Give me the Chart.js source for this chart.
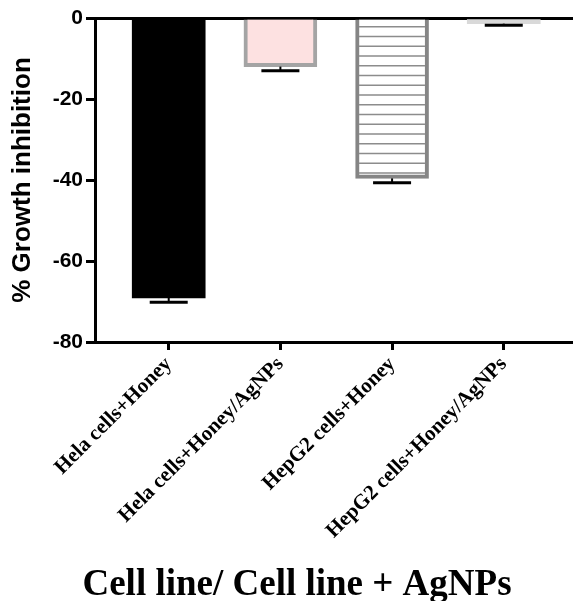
<!DOCTYPE html>
<html>
<head>
<meta charset="utf-8">
<script src="https://cdn.jsdelivr.net/npm/chart.js@4.4.1/dist/chart.umd.min.js"></script>
<style>
    html, body { margin: 0; padding: 0; background: #fff; }
</style>
</head>
<body>
<canvas id="growthChart" width="573" height="601"></canvas>
<script>
const categories = ["Hela cells+Honey", "Hela cells+Honey/AgNPs", "HepG2 cells+Honey", "HepG2 cells+Honey/AgNPs"];
const inhibition = [-69.1, -12.0, -39.6, -1.4];
const errors = [1.1, 1.0, 1.1, 0.4];
const yTicks = [0, -20, -40, -60, -80];
const yAxisTitle = "% Growth inhibition";
const xAxisTitle = "Cell line/ Cell line + AgNPs";

// white fill with thin grey horizontal lines, like the HepG2 bar
const makeStripes = () => {
    const c = document.createElement('canvas');
    c.width = 8;
    c.height = 39;
    const g = c.getContext('2d');
    g.fillStyle = '#ffffff';
    g.fillRect(0, 0, 8, 39);
    g.fillStyle = '#8c8c8c';
    for (let k = 0; k < 4; k++)
        g.fillRect(0, 6.5 + k * 9.75, 8, 1.5);
    return g.createPattern(c, 'repeat');
}

const errorBars = {
    id: 'errorBars',
    afterDatasetsDraw(chart) {
        const { ctx, scales: { x, y } } = chart;
        ctx.save();
        ctx.strokeStyle = '#000';
        inhibition.forEach((v, i) => {
            const px = x.getPixelForValue(i);
            const end = y.getPixelForValue(v);
            const low = y.getPixelForValue(v - errors[i]);
            ctx.lineWidth = 2;
            ctx.beginPath();
            ctx.moveTo(px, end);
            ctx.lineTo(px, low);
            ctx.stroke();
            ctx.lineWidth = 3;
            ctx.beginPath();
            ctx.moveTo(px - 19, low);
            ctx.lineTo(px + 19, low);
            ctx.stroke();
        });
        ctx.restore();
    }
};

const bottomTitle = {
    id: 'bottomTitle',
    afterDraw(chart) {
        const ctx = chart.ctx;
        ctx.save();
        ctx.font = 'bold 37px "Liberation Serif", "Times New Roman", serif';
        ctx.fillStyle = '#000';
        ctx.textAlign = 'center';
        ctx.textBaseline = 'alphabetic';
        ctx.fillText(xAxisTitle, 297, 595);
        ctx.restore();
    }
};

new Chart(document.getElementById('growthChart'), {
    type: 'bar',
    data: {
        datasets: [{
            data: inhibition.map((v, i) => ({ x: i, y: v })),
            backgroundColor: ['#000000', '#fde1e1', makeStripes(), '#d9d9d9'],
            borderColor: ['#000000', '#a4a4a4', '#858585', '#d9d9d9'],
            borderWidth: [0, 4, 4, 0],
            borderSkipped: 'start',
            barThickness: 73,
        }]
    },
    options: {
        responsive: false,
        animation: false,
        layout: { padding: { top: 18, right: 0, bottom: 0, left: 0 } },
        plugins: {
            legend: { display: false },
            tooltip: { enabled: false },
        },
        scales: {
            x: {
                type: 'linear',
                offset: false,
                min: -0.66,
                max: 3.62,
                afterBuildTicks: s => { s.ticks = categories.map((c, i) => ({ value: i })); },
                afterFit: s => { s.height = 259; s.paddingLeft = 0; s.paddingRight = 0; },
                ticks: {
                    autoSkip: false,
                    minRotation: 45,
                    maxRotation: 45,
                    padding: 2,
                    color: '#000',
                    font: { family: '"Liberation Serif", "Times New Roman", serif', size: 21, weight: 'bold' },
                    callback: v => categories[v],
                },
                grid: { offset: false, drawOnChartArea: false, tickColor: '#000', tickLength: 8, tickWidth: 3 },
                border: { color: '#000', width: 3 },
            },
            y: {
                min: -80,
                max: 0,
                afterBuildTicks: s => { s.ticks = yTicks.map(v => ({ value: v })); },
                afterFit: s => { s.width = 95; },
                ticks: {
                    padding: 3,
                    color: '#000',
                    font: { family: '"Liberation Sans", Arial, sans-serif', size: 21, weight: 'bold' },
                },
                grid: {
                    color: c => (c.tick && c.tick.value === 0) ? '#000' : 'rgba(0,0,0,0)',
                    lineWidth: 3,
                    tickColor: '#000',
                    tickLength: 9,
                    tickWidth: 3,
                },
                border: { color: '#000', width: 3 },
                title: {
                    display: true,
                    text: yAxisTitle,
                    color: '#000',
                    padding: { top: 7, bottom: 0 },
                    font: { family: '"Liberation Sans", Arial, sans-serif', size: 26, weight: 'bold' },
                },
            }
        }
    },
    plugins: [errorBars, bottomTitle]
});
</script>
</body>
</html>
